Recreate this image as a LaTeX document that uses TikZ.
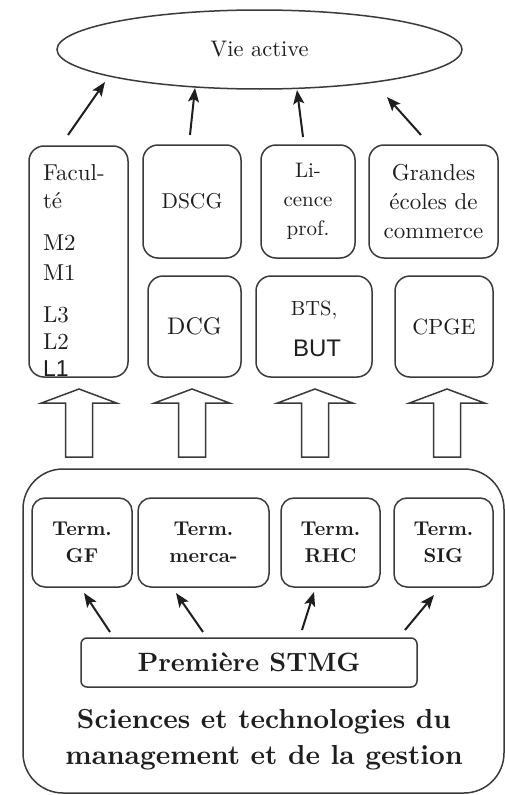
\documentclass[tikz,border=0pt]{standalone}
\usepackage{fontspec}
\setmainfont{lmroman10-regular.otf}[BoldFont=lmroman10-bold.otf]
\newfontfamily\arialish{Liberation Sans}
\usetikzlibrary{shapes.geometric,arrows.meta}
\newcommand\fsz[2]{\fontsize{#1}{#2}\selectfont}
\definecolor{ink}{HTML}{1E1E1E}
\definecolor{edge}{HTML}{3A3A3A}
\begin{document}
\begin{tikzpicture}[x=1pt,y=-1pt,
  every node/.style={text=ink,inner sep=0pt,outer sep=0pt},
  box/.style={draw=edge,line width=1.5pt,rounded corners=15pt},
  termbox/.style={draw=edge,line width=1.5pt,rounded corners=13pt,
    minimum width=#1,minimum height=89pt,align=center,
    font=\bfseries\fsz{20}{27}},
  arr/.style={draw=ink,line width=2pt,-{Stealth[length=14pt,width=11pt,inset=3pt]}},
  pics/bigup/.style={code={
    \draw[edge,line width=1.5pt,line join=miter,fill=white]
      (0,0) -- (37.5,14) -- (13.5,14) -- (13.5,68) -- (-13.5,68)
      -- (-13.5,14) -- (-37.5,14) -- cycle;}}]
\useasboundingbox (0,0) rectangle (505,795);

% destination
\node[draw=edge,line width=1.5pt,ellipse,minimum width=405pt,minimum height=79pt,
  font=\fsz{22.5}{26}] (life) at (259.5,49.5) {Vie active};

% post-bac studies, upper row
\node[box,minimum width=99pt,minimum height=231pt] (fac) at (78.5,261.5) {};
\node[box,minimum width=98pt,minimum height=113pt,font=\fsz{21.5}{28}] (dscg) at (192,201.5) {DSCG};
\node[box,minimum width=94pt,minimum height=113pt,align=center,font=\fsz{21}{29}] (lic) at (308,201.5) {Li-\\cence\\prof.};
\node[box,minimum width=129pt,minimum height=113pt,align=center,font=\fsz{23}{29}] (gec) at (433.5,201.5) {Grandes\\écoles de\\commerce};

% post-bac studies, lower row
\node[box,minimum width=93pt,minimum height=101pt,font=\fsz{24}{28}] (dcg) at (194.5,326.5) {DCG};
\node[box,minimum width=116pt,minimum height=101pt] (bts) at (314,326.5) {};
\node[box,minimum width=98pt,minimum height=101pt,font=\fsz{22}{28}] (cpge) at (444,326.5) {CPGE};

% texts inside the university column
\begin{scope}[every node/.append style={anchor=base west,font=\fsz{23}{28}}]
  \node (f1) at (43,180) {Facul-};
  \node (f2) at (43,208) {té};
  \node (f3) at (43,250) {M2};
  \node (f4) at (43,280) {M1};
  \node (f5) at (43,322) {L3};
  \node (f6) at (43,349) {L2};
  \node[font=\arialish\fsz{23}{28}] (f7) at (43,376) {L1};
\end{scope}

% texts inside the BTS box
\node[font=\fsz{20.5}{24}] (bts1) at (314,310) {BTS,};
\node[font=\arialish\fsz{24}{28}] (bts2) at (317,348) {BUT};

% broad arrows from the baccalaureate to further studies
\pic at (79,389) {bigup};
\pic at (192,389) {bigup};
\pic at (315,389) {bigup};
\pic at (447,389) {bigup};

% STMG frame
\node[draw=edge,line width=1.5pt,rounded corners=40pt,minimum width=481pt,
  minimum height=324pt] (stmg) at (263.5,631) {};
\node[termbox=100pt] (gf) at (82,542.5) {Term.\\GF};
\node[termbox=131pt] (merca) at (203.5,542.5) {Term.\\merca-};
\node[termbox=99pt] (rhc) at (330.5,542.5) {Term.\\RHC};
\node[termbox=99pt] (sig) at (443.5,542.5) {Term.\\SIG};
\node[draw=edge,line width=1.5pt,rounded corners=6pt,minimum width=336pt,
  minimum height=49pt,font=\bfseries\fsz{26.5}{30}] (prem) at (249,662.5) {Première STMG};
\node[align=center,font=\bfseries\fsz{27.5}{36}] (title) at (264,740)
  {Sciences et technologies du\\management et de la gestion};

% arrows towards working life
\draw[arr] ([xshift=-10.5pt,yshift=11pt]fac.north) -- ([xshift=-154.5pt,yshift=-32.5pt]life.center);
\draw[arr] ([xshift=-2pt,yshift=10pt]dscg.north) -- ([xshift=-64.5pt,yshift=-38.5pt]life.center);
\draw[arr] ([xshift=-5pt,yshift=8pt]lic.north) -- ([xshift=37.5pt,yshift=-40.5pt]life.center);
\draw[arr] ([xshift=-12.5pt,yshift=10pt]gec.north) -- ([xshift=127.5pt,yshift=-47.5pt]life.center);

% arrows from Premiere to the four Terminale options
\draw[arr] ([xshift=-139pt,yshift=6pt]prem.north) -- ([xshift=2pt,yshift=-6pt]gf.south);
\draw[arr] ([xshift=-46pt,yshift=6pt]prem.north) -- ([xshift=-27.5pt,yshift=-6pt]merca.south);
\draw[arr] ([xshift=53pt,yshift=8pt]prem.north) -- ([xshift=-16.5pt,yshift=-5pt]rhc.south);
\draw[arr] ([xshift=156pt,yshift=8pt]prem.north) -- ([xshift=-9.5pt,yshift=-8pt]sig.south);
\end{tikzpicture}
\end{document}
